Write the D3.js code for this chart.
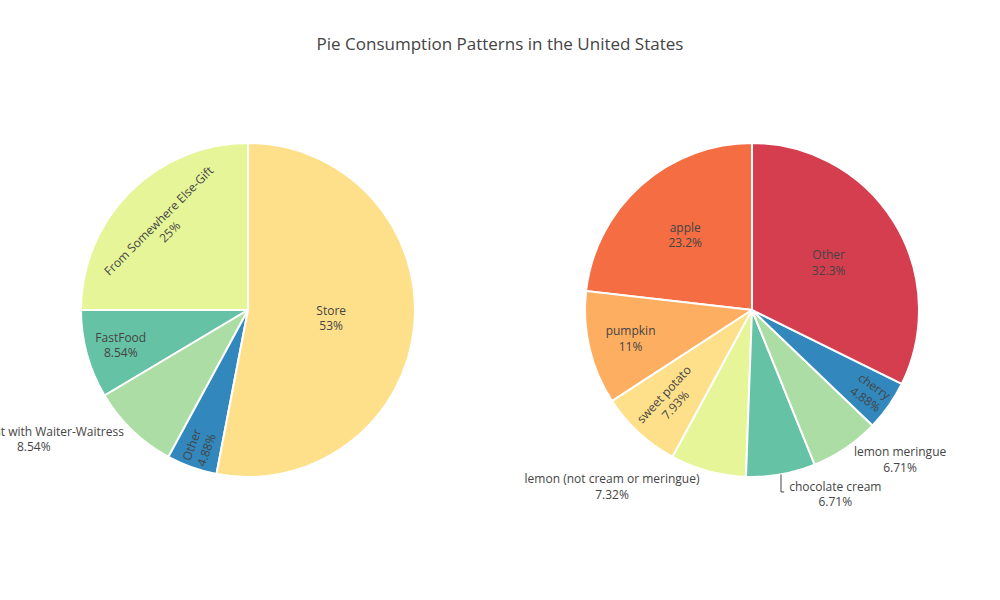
<!DOCTYPE html>
<html>
<head>
<meta charset="utf-8">
<script src="https://cdn.jsdelivr.net/npm/d3@7"></script>
<style>
  html, body { margin: 0; padding: 0; background: #fff; }
  svg { display: block; }
</style>
</head>
<body>
<div id="chart"></div>
<script>
// ---- data (counter-clockwise from 12 o'clock) ----
const chartTitle = "Pie Consumption Patterns in the United States";

const whereLabels = ["From Somewhere Else-Gift", "FastFood", "Restaurant with Waiter-Waitress", "Other", "Store"];
const whereValues = [25, 8.54, 8.54, 4.88, 53];
const whereColors = ["#e6f598", "#66c2a5", "#abdda4", "#3288bd", "#fee08b"];

const typeLabels = ["apple", "pumpkin", "sweet potato", "lemon (not cream or meringue)", "chocolate cream", "lemon meringue", "cherry", "Other"];
const typeValues = [23.2, 11, 7.93, 7.32, 6.71, 6.71, 4.88, 32.3];
const typeColors = ["#f46d43", "#fdae61", "#fee08b", "#e6f598", "#66c2a5", "#abdda4", "#3288bd", "#d53e4f"];

// ---- layout ----
const W = 1000, H = 600;
const margin = {l: 80, r: 80, t: 100, b: 80};
const FONT = "'Open Sans', verdana, arial, sans-serif";
const TEXT_COLOR = "#444";

const svg = d3.select("#chart").append("svg").attr("width", W).attr("height", H);

svg.append("text")
  .attr("x", W / 2).attr("y", 50)
  .attr("text-anchor", "middle")
  .attr("font-family", FONT).attr("font-size", 17).attr("fill", TEXT_COLOR)
  .text(chartTitle);

const xDom = d3.scaleLinear().domain([0, 1]).range([margin.l, W - margin.r]);
const yDom = d3.scaleLinear().domain([0, 1]).range([H - margin.b, margin.t]);

function fmtPct(p) {
  let s = (p * 100).toPrecision(3);
  if (s.indexOf(".") >= 0) s = s.replace(/0+$/, "").replace(/\.$/, "");
  return s + "%";
}

function insideTransform(bb, mid, half, r) {
  const diam = Math.sqrt(bb.width * bb.width + bb.height * bb.height);
  const aspect = bb.width / bb.height;
  const rIn = Math.min(1 / (1 + 1 / Math.sin(half)), 0.5);
  const t = {scale: rIn * r * 2 / diam, rCenter: 1 - rIn, rotate: 0};
  if (t.scale >= 1.05) return t;
  const deg = 180 / Math.PI * mid;
  const Qr = aspect + 1 / (2 * Math.tan(half));
  const hRad = r * Math.min(1 / (Math.sqrt(Qr * Qr + 0.5) + Qr), 1 / (Math.sqrt(aspect * aspect + 0.5) + aspect));
  const radial = {scale: hRad * 2 / bb.height, rCenter: Math.cos(hRad / r) - hRad * aspect / r,
    rotate: ((deg + 720) % 180) - 90};
  const inv = 1 / aspect;
  const Qt = inv + 1 / (2 * Math.tan(half));
  const hTan = r * Math.min(1 / (Math.sqrt(Qt * Qt + 0.5) + Qt), 1 / (Math.sqrt(inv * inv + 0.5) + inv));
  const tang = {scale: hTan * 2 / bb.width, rCenter: Math.cos(hTan / r) - hTan / aspect / r,
    rotate: ((deg + 810) % 180) - 90};
  const rot = tang.scale > radial.scale ? tang : radial;
  if (rot.scale > t.scale) return rot;
  return t;
}

function drawPie(labels, values, colors, domX, domY) {
  const cx = (xDom(domX[0]) + xDom(domX[1])) / 2;
  const cy = (yDom(domY[0]) + yDom(domY[1])) / 2;
  const r = Math.min(xDom(domX[1]) - xDom(domX[0]), yDom(domY[0]) - yDom(domY[1])) / 2 - 1;
  const total = d3.sum(values);
  const arcs = d3.pie().sort(null).value(d => d).startAngle(0).endAngle(-2 * Math.PI)(values);
  const arc = d3.arc().innerRadius(0).outerRadius(r);

  const g = svg.append("g").attr("transform", `translate(${cx},${cy})`);
  g.selectAll("path.slice").data(arcs).join("path")
    .attr("class", "slice")
    .attr("d", arc)
    .attr("fill", (d, i) => colors[i])
    .attr("stroke", "#fff").attr("stroke-width", 2);

  const outside = [];
  arcs.forEach((a, i) => {
    const t = g.append("text")
      .attr("font-family", FONT).attr("font-size", 12).attr("fill", TEXT_COLOR)
      .attr("text-anchor", "middle");
    t.append("tspan").attr("x", 0).attr("y", 0).text(labels[i]);
    t.append("tspan").attr("x", 0).attr("dy", "1.3em").text(fmtPct(values[i] / total));
    const bb = t.node().getBBox();
    const mid = (a.startAngle + a.endAngle) / 2;
    const half = Math.abs(a.endAngle - a.startAngle) / 2;
    const px = [r * Math.sin(mid), -r * Math.cos(mid)];
    const tr = insideTransform(bb, mid, half, r);
    const bcx = bb.x + bb.width / 2, bcy = bb.y + bb.height / 2;
    if (tr.scale >= 1.05) {
      const tx = px[0] * tr.rCenter, ty = px[1] * tr.rCenter;
      t.attr("transform", `translate(${tx},${ty}) rotate(${tr.rotate}) translate(${-bcx},${-bcy})`);
    } else {
      let dx = bb.width / 2, dy = bb.height / 2;
      if (px[0] < 0) dx *= -1;
      if (px[1] < 0) dy *= -1;
      const ox = dx + Math.abs(dy) * (dx > 0 ? 1 : -1) / 2;
      const oy = dy / (1 + px[0] * px[0] / (px[1] * px[1]));
      outside.push({t, bb, bcx, bcy, px, x: px[0] + ox, y: px[1] + oy, y0: px[1] + oy});
    }
  });

  // avoid overlapping outside labels (per quadrant, nearest the equator first)
  const quads = d3.groups(outside, o => (o.px[0] > 0 ? "R" : "L") + (o.px[1] > 0 ? "B" : "T"));
  quads.forEach(([key, list]) => {
    const down = key[1] === "B";
    list.sort((a, b) => Math.abs(a.y) - Math.abs(b.y));
    for (let k = 1; k < list.length; k++) {
      const p = list[k - 1], c = list[k];
      const xOverlap = Math.abs(p.x - c.x) < (p.bb.width + c.bb.width) / 2;
      if (!xOverlap) continue;
      const gap = 2;
      if (down) {
        const minY = p.y + p.bb.height / 2 + c.bb.height / 2 + gap;
        if (c.y < minY) c.y = minY;
      } else {
        const maxY = p.y - p.bb.height / 2 - c.bb.height / 2 - gap;
        if (c.y > maxY) c.y = maxY;
      }
    }
  });

  outside.forEach(o => {
    o.t.attr("transform", `translate(${o.x},${o.y}) translate(${-o.bcx},${-o.bcy})`);
    if (Math.abs(o.y - o.y0) > 0.5) {
      const side = o.px[0] > 0 ? 1 : -1;
      const lineY = o.y - 2;
      const endX = o.x - side * (o.bb.width / 2 + 5);
      g.append("path")
        .attr("d", `M${o.px[0]},${o.px[1]}V${lineY}H${endX}`)
        .attr("fill", "none").attr("stroke", TEXT_COLOR).attr("stroke-width", 1);
    }
  });
}

drawPie(whereLabels, whereValues, whereColors, [0, 0.4], [0, 1]);
drawPie(typeLabels, typeValues, typeColors, [0.6, 1], [0, 1]);
</script>
</body>
</html>
